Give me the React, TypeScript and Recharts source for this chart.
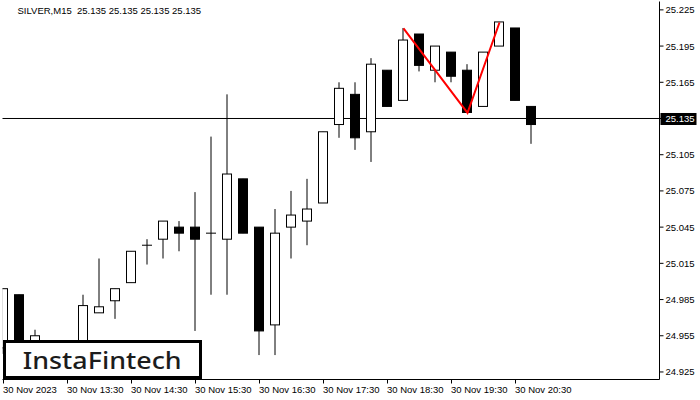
import React from 'react';
import { ComposedChart, Bar, Line, XAxis, YAxis, ReferenceLine } from 'recharts';

const times = [
  '12:30', '12:45', '13:00', '13:15', '13:30', '13:45', '14:00', '14:15',
  '14:30', '14:45', '15:00', '15:15', '15:30', '15:45', '16:00', '16:15',
  '16:30', '16:45', '17:00', '17:15', '17:30', '17:45', '18:00', '18:15',
  '18:30', '18:45', '19:00', '19:15', '19:30', '19:45', '20:00', '20:15',
  '20:30', '20:45',
];
const opens = [
  24.945, 24.989, 24.949, 24.948, 24.944, 24.946, 24.974, 24.984,
  24.999, 25.030, 25.035, 25.045, 25.045, 25.040, 25.035, 25.085,
  25.045, 24.964, 25.045, 25.050, 25.065, 25.130, 25.155, 25.124,
  25.175, 25.150, 25.205, 25.175, 25.190, 25.175, 25.145, 25.195,
  25.210, 25.145,
];
const highs = [
  24.994, 24.989, 24.960, 24.950, 24.949, 24.989, 25.019, 24.994,
  25.025, 25.035, 25.050, 25.050, 25.074, 25.120, 25.155, 25.085,
  25.045, 25.060, 25.075, 25.085, 25.124, 25.165, 25.165, 25.185,
  25.175, 25.210, 25.205, 25.195, 25.190, 25.180, 25.190, 25.215,
  25.210, 25.145,
];
const lows = [
  24.940, 24.942, 24.944, 24.938, 24.936, 24.940, 24.974, 24.969,
  24.999, 25.014, 25.019, 25.025, 24.959, 24.989, 24.989, 25.040,
  24.939, 24.939, 25.019, 25.030, 25.065, 25.119, 25.109, 25.099,
  25.145, 25.150, 25.174, 25.165, 25.165, 25.140, 25.145, 25.195,
  25.150, 25.114,
];
const closes = [
  24.994, 24.947, 24.955, 24.944, 24.947, 24.980, 24.979, 24.994,
  25.025, 25.030, 25.050, 25.040, 25.035, 25.040, 25.089, 25.040,
  24.959, 25.040, 25.055, 25.060, 25.124, 25.160, 25.119, 25.180,
  25.145, 25.200, 25.179, 25.195, 25.170, 25.140, 25.190, 25.215,
  25.150, 25.130,
];

const currentPrice = 25.135;
const yTicks = [24.925, 24.955, 24.985, 25.015, 25.045, 25.075, 25.105, 25.135, 25.165, 25.195, 25.225];
const xTickIdx = [0, 4, 8, 12, 16, 20, 24, 28, 32];
const xTickLabels = [
  '30 Nov 2023', '30 Nov 13:30', '30 Nov 14:30', '30 Nov 15:30', '30 Nov 16:30',
  '30 Nov 17:30', '30 Nov 18:30', '30 Nov 19:30', '30 Nov 20:30',
];
const patternIdx = [25, 29, 31];
const patternVals = [25.2096, 25.1396, 25.2145];

const Y_DOMAIN: [number, number] = [24.91876, 25.23193];
const X_DOMAIN: [number, number] = [-0.0625, 41];

const data = times.map((t, i) => {
  const pi = patternIdx.indexOf(i);
  return {
    idx: i,
    time: t,
    open: opens[i],
    high: highs[i],
    low: lows[i],
    close: closes[i],
    pattern: pi >= 0 ? patternVals[pi] : null,
  };
});

const FONT = '"Liberation Sans", Arial, sans-serif';

const Candle = (props: any) => {
  const { x, y, width, height, payload } = props;
  if (!payload) return null;
  const { open, high, low, close } = payload;
  const top = Math.min(y, y + height);
  const h = Math.abs(height);
  const k = h / (high - low);
  const py = (p: number) => top + (high - p) * k;
  const cx = x + width / 2;
  const up = close >= open;
  const bt = py(Math.max(open, close));
  const bb = py(Math.min(open, close));
  return (
    <g>
      <line x1={cx} x2={cx} y1={top} y2={top + h} stroke="#000" strokeWidth={1} />
      {bb - bt < 1 ? (
        <line x1={cx - 5} x2={cx + 5} y1={bt} y2={bt} stroke="#000" strokeWidth={1} />
      ) : (
        <rect x={cx - 4.5} y={bt} width={9} height={bb - bt} fill={up ? '#fff' : '#000'} stroke="#000" strokeWidth={1} />
      )}
    </g>
  );
};

const XTick = (props: any) => {
  const { x, y, payload } = props;
  const k = xTickIdx.indexOf(payload.value);
  if (k < 0) return null;
  return (
    <text x={x - 0.5} y={y + 7} fontSize={9.5} fontFamily={FONT} fill="#000" textAnchor="start">
      {xTickLabels[k]}
    </text>
  );
};

const YTick = (props: any) => {
  const { x, y, payload } = props;
  const v = payload.value as number;
  const isCurrent = Math.abs(v - currentPrice) < 1e-9;
  return (
    <g>
      {isCurrent && <rect x={x - 5} y={y - 5.5} width={36} height={12} fill="#000" />}
      <text x={x} y={y + 3.5} fontSize={9.5} fontFamily={FONT} fill={isCurrent ? '#fff' : '#000'} textAnchor="start">
        {v.toFixed(3)}
      </text>
    </g>
  );
};

export default function App() {
  return (
    <div style={{ position: 'absolute', left: 0, top: 0, width: 700, height: 400, background: '#fff', fontFamily: FONT }}>
      <ComposedChart
        width={700}
        height={400}
        data={data}
        margin={{ top: 1.5, right: 0, bottom: 0, left: 2.5 }}
      >
        <XAxis
          dataKey="idx"
          type="number"
          domain={X_DOMAIN}
          ticks={xTickIdx}
          interval={0}
          allowDataOverflow
          height={20.5}
          tickSize={4}
          tickMargin={2}
          axisLine={{ stroke: '#000' }}
          tickLine={{ stroke: '#000' }}
          tick={<XTick />}
        />
        <XAxis
          xAxisId="top"
          orientation="top"
          dataKey="idx"
          type="number"
          domain={X_DOMAIN}
          allowDataOverflow
          height={0}
          tick={false}
          tickLine={false}
          axisLine={{ stroke: '#000' }}
        />
        <YAxis
          orientation="right"
          type="number"
          domain={Y_DOMAIN}
          ticks={yTicks}
          interval={0}
          allowDataOverflow
          width={40.5}
          tickSize={4}
          tickMargin={2}
          axisLine={{ stroke: '#000' }}
          tickLine={{ stroke: '#000' }}
          tick={<YTick />}
        />
        <YAxis
          yAxisId="left"
          orientation="left"
          type="number"
          domain={Y_DOMAIN}
          allowDataOverflow
          width={0}
          tick={false}
          tickLine={false}
          axisLine={{ stroke: '#000' }}
        />
        <ReferenceLine y={currentPrice} stroke="#000" strokeWidth={1} {...({ zIndex: -50 } as any)} />
        <Bar
          dataKey={(d: any) => [d.low, d.high]}
          barSize={9}
          shape={<Candle />}
          isAnimationActive={false}
        />
        <Line
          dataKey="pattern"
          stroke="#ff0000"
          strokeWidth={2}
          dot={false}
          activeDot={false}
          connectNulls
          isAnimationActive={false}
        />
      </ComposedChart>
      <div
        style={{
          position: 'absolute',
          left: 17.5,
          top: 4,
          fontSize: 9.5,
          lineHeight: '13px',
          whiteSpace: 'pre',
          color: '#000',
          fontFamily: FONT,
        }}
      >
        {'SILVER,M15  25.135 25.135 25.135 25.135'}
      </div>
      <svg width={700} height={400} style={{ position: 'absolute', left: 0, top: 0, pointerEvents: 'none' }}>
        <rect x={4.5} y={341.5} width={196} height={36} fill="#fff" stroke="#000" strokeWidth={3} />
        <text
          x={102.2}
          y={369.3}
          textAnchor="middle"
          fontFamily='"Noto Sans", sans-serif'
          fontWeight={500}
          fontSize={24}
          fill="#1c1c1c"
          textLength={159}
          lengthAdjust="spacingAndGlyphs"
        >
          InstaFintech
        </text>
      </svg>
    </div>
  );
}
